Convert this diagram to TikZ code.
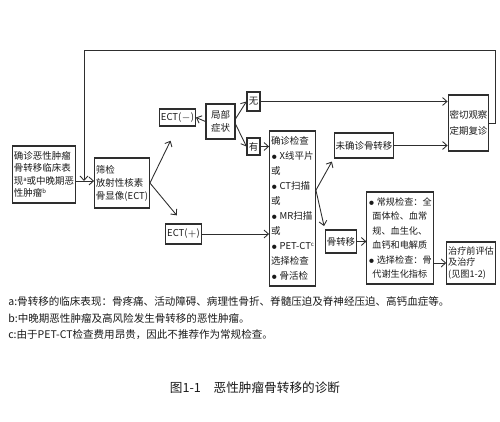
\documentclass[tikz,border=0pt]{standalone}
\usepackage{fontspec}
\setmainfont{Noto Sans CJK SC}
\usetikzlibrary{arrows.meta}
\definecolor{inkline}{HTML}{2E2E2E}
\definecolor{inktext}{HTML}{1A1A1A}
\newcommand{\supnote}[1]{\raisebox{1.6pt}{\fontsize{3.4}{4}\selectfont #1}}

\tikzset{
  flowbox/.style={draw=inkline, line width=0.6pt, text=inktext,
    font=\fontsize{5.4}{7}\selectfont, align=left, inner sep=0.8pt},
  flowarr/.style={draw=inkline, line width=0.5pt,
    -{Straight Barb[length=2.5pt, width=4.5pt]}},
}

\begin{document}
\begin{tikzpicture}[x=0.02cm, y=-0.02cm]
  \useasboundingbox (0,0) rectangle (500,422);
  % left part: diagnosis and screening
  \node[flowbox, minimum width=1.24cm, minimum height=1.14cm] (diag) at (44,174.5)
    {确诊恶性肿瘤\\骨转移临床表\\现\supnote{a}或中晚期恶\\性肿瘤\supnote{b}};
  \node[flowbox, minimum width=1.04cm, minimum height=1cm,
        font=\fontsize{5.4}{7.4}\selectfont] (screen) at (122,183)
    {筛检\\放射性核素\\骨显像(ECT)};
  \node[flowbox, minimum width=0.62cm, minimum height=0.34cm] (ectneg) at (177.5,117.5)
    {ECT($-$)};
  \node[flowbox, minimum width=0.62cm, minimum height=0.40cm] (ectpos) at (183.5,234)
    {ECT($+$)};
  \node[flowbox, minimum width=0.58cm, minimum height=0.70cm,
        font=\fontsize{5.4}{7.8}\selectfont] (local) at (220.5,121.5)
    {局部\\症状};
  \node[flowbox, minimum width=0.26cm, minimum height=0.38cm] (none) at (253.5,101.5) {无};
  \node[flowbox, minimum width=0.26cm, minimum height=0.34cm] (yes) at (253.5,146.5) {有};
  % middle part: confirming examinations
  \node[flowbox, minimum width=0.90cm, minimum height=3.10cm,
        font=\fontsize{5.4}{8.5}\selectfont] (confirm) at (292.5,208.5)
    {确诊检查\\$\bullet$ X线平片\\或\\$\bullet$ CT扫描\\或\\$\bullet$ MR扫描\\或\\$\bullet$ PET-CT\supnote{c}\\选择检查\\$\bullet$ 骨活检};
  \node[flowbox, minimum width=1.16cm, minimum height=0.50cm] (unconf) at (364,145.5)
    {未确诊骨转移};
  \node[flowbox, minimum width=0.60cm, minimum height=0.46cm] (meta) at (341,241.5)
    {骨转移};
  % right part: follow-up and treatment
  \node[flowbox, minimum width=0.78cm, minimum height=1.12cm,
        font=\fontsize{5.4}{9.5}\selectfont] (observe) at (468.5,123)
    {密切观察\\定期复诊};
  \node[flowbox, minimum width=1.28cm, minimum height=1.84cm,
        font=\fontsize{5.2}{8.2}\selectfont] (routine) at (400,238)
    {$\bullet$ 常规检查：全\\\ \ 面体检、血常\\\ \ 规、血生化、\\\ \ 血钙和电解质\\$\bullet$ 选择检查：骨\\\ \ 代谢生化指标};
  \node[flowbox, minimum width=0.88cm, minimum height=0.84cm,
        font=\fontsize{5.2}{6.8}\selectfont] (treat) at (471,263)
    {治疗前评估\\及治疗\\(见图1-2)};

  % connectors
  \coordinate (join) at (84,181);
  \coordinate (loopr) at (495,50);
  \coordinate (loopl) at (84,50);
  \draw[flowarr] (diag.east |- join) -- (join -| screen.west);
  \draw[flowarr] (observe.east) -| (loopr) -- (loopl) -- (join);
  \draw[flowarr, shorten >=9pt] (screen.east) -- (ectneg.south);
  \draw[flowarr, shorten >=6pt] (screen.east) -- (ectpos.north);
  \draw[flowarr] (local.west) -- (ectneg.east);
  \draw[flowarr] (local.10) -- (none.west);
  \draw[flowarr] (local.-10) -- (yes.west);
  \draw[flowarr] (none.east) -- (none.east -| observe.west);
  \draw[flowarr] (yes.east) -- (yes.east -| confirm.west);
  \draw[flowarr] (ectpos.east) -- (ectpos.east -| confirm.west);
  \draw[flowarr, shorten >=2pt] (confirm.38) -- (unconf.south west);
  \draw[flowarr, shorten >=2pt] (confirm.38) -- (meta.north west);
  \draw[flowarr] (unconf.east) -- (unconf.east -| observe.west);
  \draw[flowarr] (meta.east) -- (meta.east -| routine.west);
  \draw[flowarr] (routine.east |- treat.west) -- (treat.west);

  % notes and caption
  \begin{scope}[every node/.style={anchor=west, inner sep=0pt, text=inktext,
      font=\fontsize{6}{7}\selectfont}]
    \node (notea) at (8,301) {a:骨转移的临床表现：骨疼痛、活动障碍、病理性骨折、脊髓压迫及脊神经压迫、高钙血症等。};
    \node (noteb) at (8,318) {b:中晚期恶性肿瘤及高风险发生骨转移的恶性肿瘤。};
    \node (notec) at (8,335) {c:由于PET-CT检查费用昂贵，因此不推荐作为常规检查。};
  \end{scope}
  \node[font=\fontsize{7.2}{8}\selectfont, text=inktext] (caption) at (255,388)
    {图1-1\quad 恶性肿瘤骨转移的诊断};
\end{tikzpicture}
\end{document}
